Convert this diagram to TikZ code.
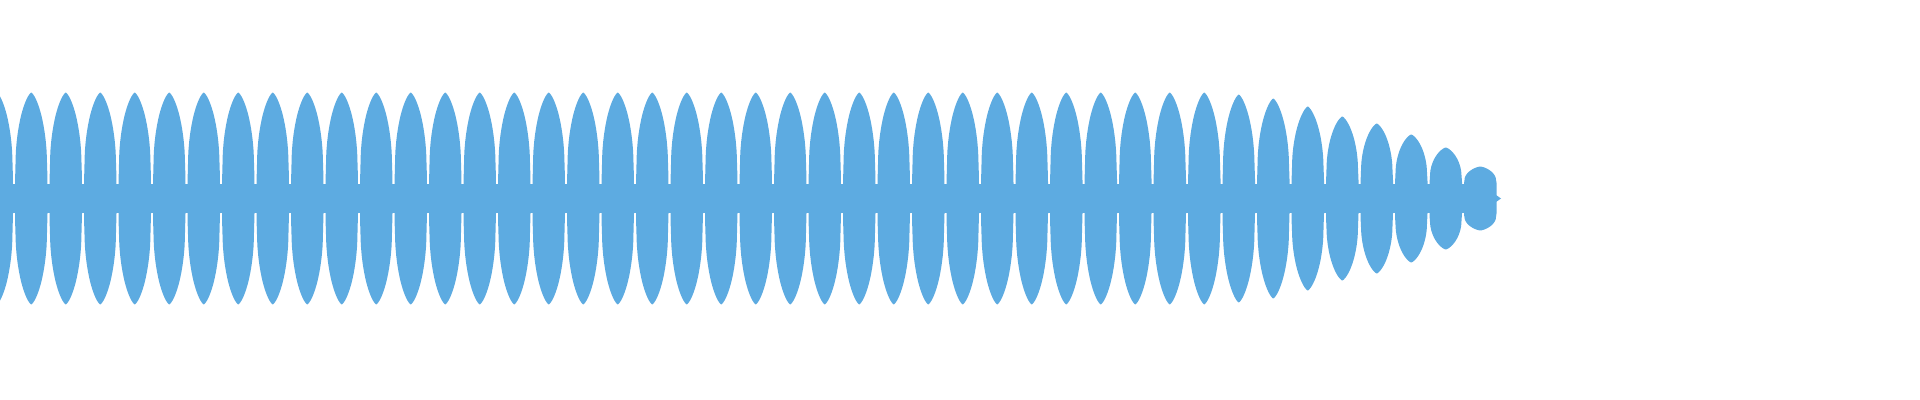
\documentclass[tikz,border=0pt]{standalone}
\definecolor{wave}{HTML}{5DABE1}
\begin{document}
\begin{tikzpicture}[x=0.01cm,y=-0.01cm]
\useasboundingbox (0,0) rectangle (1920,400);
\begin{scope}
\clip (0,0) rectangle (1920,400);
\fill[wave] (0,184) rectangle (1496,213);
\fill[wave] (1496,195) -- (1501,198.5) -- (1496,202) -- cycle;
\foreach \k/\A in {-1/106,0/106,1/106,2/106,3/106,4/106,5/106,6/106,7/106,8/106,9/106,10/106,11/106,12/106,13/106,14/106,15/106,16/106,17/106,18/106,19/106,20/106,21/106,22/106,23/106,24/106,25/106,26/106,27/106,28/106,29/106,30/106,31/106,32/106,33/106,34/106,35/104,36/100,37/92,38/82,39/75,40/64,41/51,42/32}{
  \pgfmathsetmacro{\xa}{14+34.5*\k}
  \fill[wave] plot[domain=0:1,samples=40] ({\xa+1+32.5*\x},{198.5-(15+(\A-15)*(1-abs(2*\x-1)^1.4)^0.4)})
    -- plot[domain=1:0,samples=40] ({\xa+1+32.5*\x},{198.5+(15+(\A-15)*(1-abs(2*\x-1)^1.4)^0.4)}) -- cycle;
}
\end{scope}
\end{tikzpicture}
\end{document}
